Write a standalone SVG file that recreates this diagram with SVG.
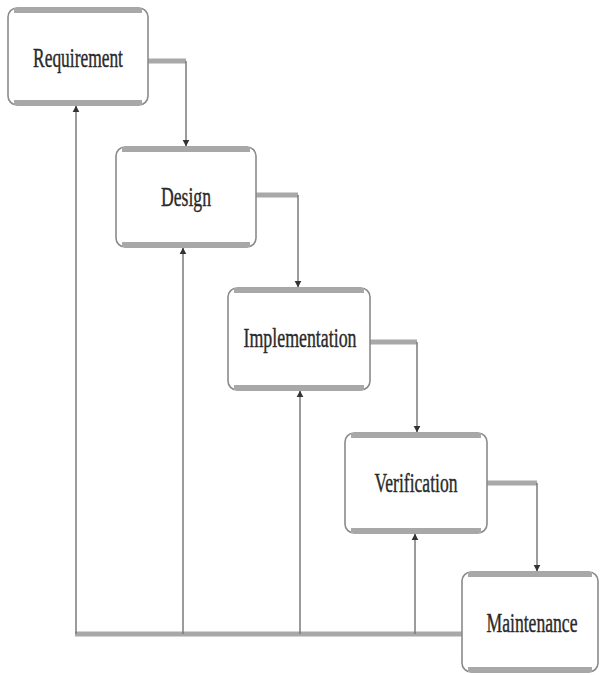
<svg xmlns="http://www.w3.org/2000/svg" width="600" height="675" viewBox="0 0 600 675">
<defs>
<style>
.box{fill:#fff;stroke:#8a8a8a;stroke-width:1.6}
.band{stroke:#a8a8a8;stroke-width:5;fill:none}
.lbl{font-family:"Liberation Serif",serif;font-size:27px;fill:#2a2a2a;stroke:#2a2a2a;stroke-width:0.4;text-anchor:middle}
.thin{stroke:#7a7a7a;stroke-width:1.5;fill:none}
.thick{stroke:#a8a8a8;stroke-width:5;fill:none}
</style>
<marker id="ah" markerWidth="7" markerHeight="9" refX="5.5" refY="3" orient="auto" markerUnits="userSpaceOnUse" viewBox="0 0 6 6">
<path d="M0,0 L6,3 L0,6 z" fill="#333"/>
</marker>
</defs>
<rect width="600" height="675" fill="#fff"/>
<g id="connectors">
<path class="thick" d="M148,61 H186"/>
<path class="thin" d="M186,61 V146" marker-end="url(#ah)"/>
<path class="thick" d="M256,195 H298"/>
<path class="thin" d="M298,195 V287" marker-end="url(#ah)"/>
<path class="thick" d="M370,342 H417"/>
<path class="thin" d="M417,342 V432" marker-end="url(#ah)"/>
<path class="thick" d="M487,483 H537"/>
<path class="thin" d="M537,483 V571" marker-end="url(#ah)"/>
<path class="thick" d="M75,634 H462"/>
<path class="thin" d="M76,634 V106" marker-end="url(#ah)"/>
<path class="thin" d="M183,634 V248" marker-end="url(#ah)"/>
<path class="thin" d="M300,634 V391" marker-end="url(#ah)"/>
<path class="thin" d="M415,634 V534" marker-end="url(#ah)"/>
</g>
<g id="requirement">
<rect class="box" x="8" y="8" width="140" height="97" rx="9"/>
<path class="band" d="M14,10.5 H142 M14,102.5 H142"/>
<text class="lbl" transform="translate(78,67) scale(0.645,1)">Requirement</text>
</g>
<g id="design">
<rect class="box" x="116" y="147" width="140" height="100" rx="9"/>
<path class="band" d="M122,149.5 H250 M122,244.5 H250"/>
<text class="lbl" transform="translate(186,206) scale(0.654,1)">Design</text>
</g>
<g id="implementation">
<rect class="box" x="228" y="288" width="142" height="102" rx="9"/>
<path class="band" d="M234,290.5 H364 M234,387.5 H364"/>
<text class="lbl" transform="translate(300,347) scale(0.661,1)">Implementation</text>
</g>
<g id="verification">
<rect class="box" x="345" y="433" width="142" height="100" rx="9"/>
<path class="band" d="M351,435.5 H481 M351,530.5 H481"/>
<text class="lbl" transform="translate(416,492) scale(0.651,1)">Verification</text>
</g>
<g id="maintenance">
<rect class="box" x="462" y="572" width="136" height="100" rx="9"/>
<path class="band" d="M468,574.5 H592 M468,669.5 H592"/>
<text class="lbl" transform="translate(532,632) scale(0.653,1)">Maintenance</text>
</g>
</svg>
